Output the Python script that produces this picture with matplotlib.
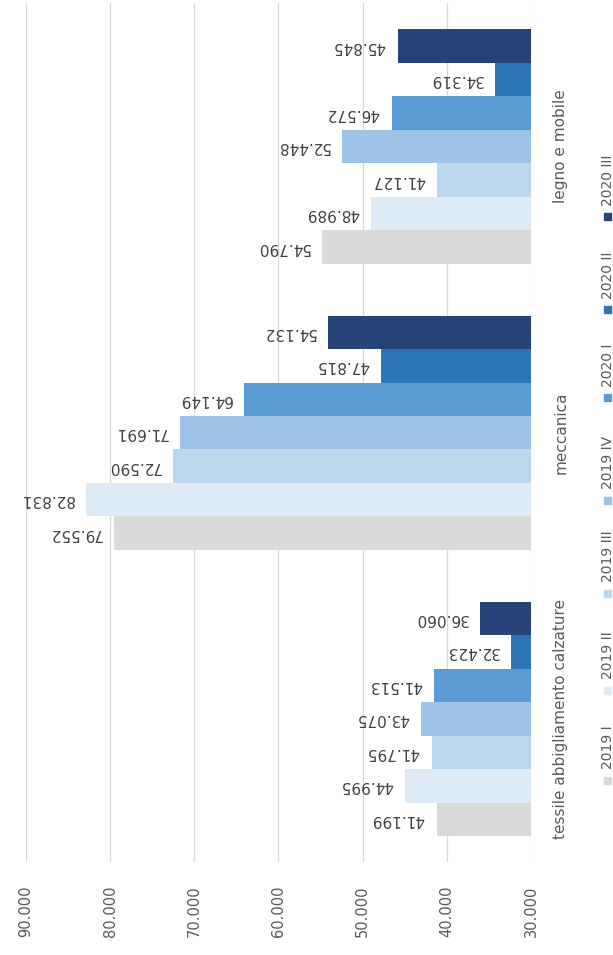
import numpy as np
import matplotlib.pyplot as plt
from matplotlib.patches import Rectangle

# dati
categories = ['tessile abbigliamento calzature', 'meccanica', 'legno e mobile']
series = ['2019 I', '2019 II', '2019 III', '2019 IV', '2020 I', '2020 II', '2020 III']
v_2019_1 = [41199, 79552, 54790]
v_2019_2 = [44995, 82831, 48989]
v_2019_3 = [41795, 72590, 41127]
v_2019_4 = [43075, 71691, 52448]
v_2020_1 = [41513, 64149, 46572]
v_2020_2 = [32423, 47815, 34319]
v_2020_3 = [36060, 54132, 45845]
values = [v_2019_1, v_2019_2, v_2019_3, v_2019_4, v_2020_1, v_2020_2, v_2020_3]
tick_values = [30000, 40000, 50000, 60000, 70000, 80000, 90000]

colors = ['#d9d9d9', '#deebf7', '#bdd7ee', '#9dc3e6', '#5b9bd5', '#2e75b6', '#264478']
legend_y = [780, 690, 593, 500, 398, 310, 217]   # centro marker (pixel)

base = 30000
W, H = 613, 955
txt_col = '#595959'


def fmt(v):
    return f"{v:,}".replace(',', '.')


plt.rcParams['font.family'] = ['DejaVu Sans']

fig = plt.figure(figsize=(W / 100, H / 100), dpi=100)
ax = fig.add_axes([26 / W, 1 - 862 / H, (531 - 26) / W, (862 - 3.5) / H])

bar_h = 0.117
y = np.arange(len(categories))
for i, (name, vals, col) in enumerate(zip(series, values, colors)):
    pos = y + (i - 3) * bar_h
    ax.barh(pos, np.array(vals) - base, left=base, height=bar_h, color=col)
    for p, v in zip(pos, vals):
        ax.annotate(fmt(v), (v, p), xytext=(-12, 0), textcoords='offset pixels',
                    rotation=180, ha='right', va='center', fontsize=11,
                    color='#404040')

ax.set_xlim(90000, 30000)
ax.set_ylim(-0.5, 2.5)
ax.set_xticks(tick_values)
ax.set_xticklabels([fmt(t) for t in tick_values], rotation=90, fontsize=10.5,
                   color=txt_col)
ax.tick_params(axis='x', length=0, pad=17)

ax.yaxis.tick_right()
ax.set_yticks(y)
ax.set_yticklabels(categories, rotation=90, va='center', fontsize=11,
                   color=txt_col)
ax.tick_params(axis='y', length=0, pad=16)

ax.grid(axis='x', color='#d9d9d9', lw=0.9)
ax.set_axisbelow(True)
for s in ax.spines.values():
    s.set_visible(False)

# legenda ruotata
for name, col, my in zip(series, colors, legend_y):
    fig.add_artist(Rectangle((604 / W, 1 - (my + 3.5) / H), 7 / W, 7 / H,
                             transform=fig.transFigure, color=col))
    fig.text(607.5 / W, 1 - (my - 11) / H, name, rotation=90, ha='center',
             va='bottom', fontsize=10, color=txt_col)

fig.savefig('out.png', dpi=100)
